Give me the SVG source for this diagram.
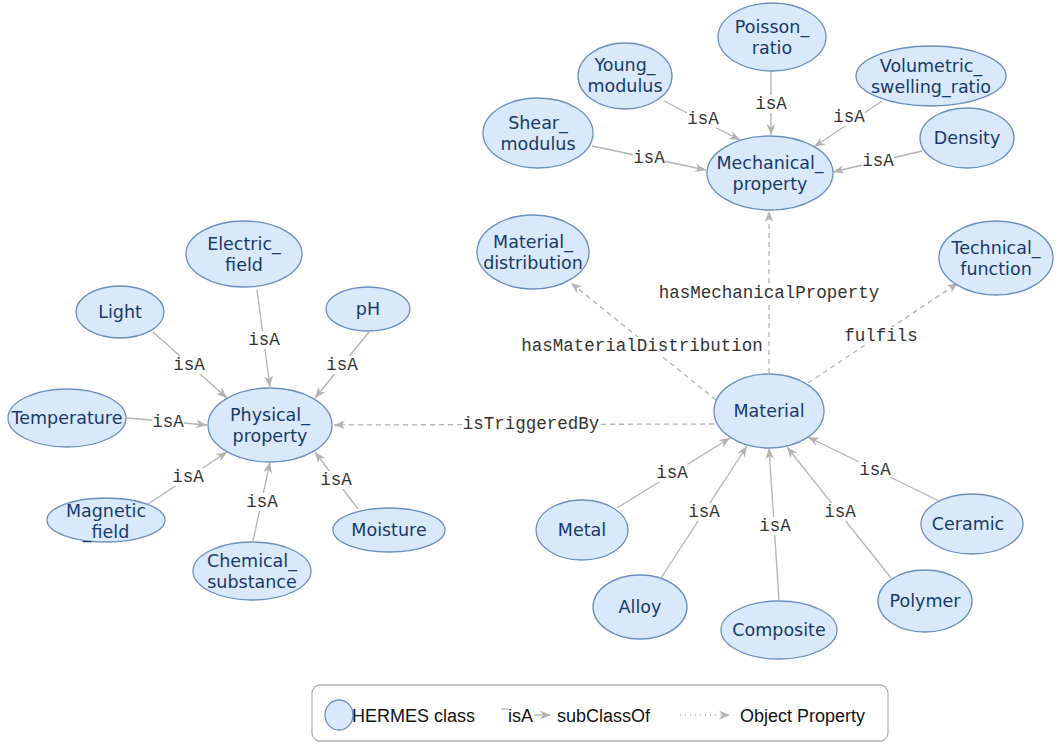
<svg xmlns="http://www.w3.org/2000/svg" width="1060" height="742" viewBox="0 0 1060 742">
<defs>
<style>
.n ellipse{fill:#dae8fc;stroke:#6c8ebf;stroke-width:1.3}
.n text{font-family:"DejaVu Sans",Verdana,sans-serif;font-size:17.5px;fill:#173a6a;text-anchor:middle}
.e{stroke:#b3b3b3;stroke-width:1.3;fill:none}
.d{stroke:#b3b3b3;stroke-width:1.3;fill:none;stroke-dasharray:5 4}
.lb{fill:#fff}
.lt{font-family:"Liberation Mono","Courier New",monospace;font-size:17.5px;fill:#333;text-anchor:middle}
.lg{font-family:"Liberation Sans",Arial,sans-serif;font-size:18px;fill:#111}
</style>
<marker id="ar" viewBox="0 0 10 8" refX="10" refY="4" markerWidth="11" markerHeight="9" markerUnits="userSpaceOnUse" orient="auto">
<path d="M0,0 L10,4 L0,8 L3,4 Z" fill="#b3b3b3"/>
</marker>
</defs>
<rect width="1060" height="742" fill="#fff"/>

<g id="edges">
<line class="e" x1="664" y1="101" x2="740" y2="140" marker-end="url(#ar)"/>
<line class="e" x1="771" y1="71" x2="771" y2="135" marker-end="url(#ar)"/>
<line class="e" x1="882" y1="101" x2="814" y2="147" marker-end="url(#ar)"/>
<line class="e" x1="592" y1="146" x2="706" y2="170" marker-end="url(#ar)"/>
<line class="e" x1="922" y1="151" x2="833" y2="172" marker-end="url(#ar)"/>
<line class="e" x1="257" y1="290" x2="270" y2="387" marker-end="url(#ar)"/>
<line class="e" x1="153" y1="332" x2="227" y2="398" marker-end="url(#ar)"/>
<line class="e" x1="369" y1="332" x2="315" y2="398" marker-end="url(#ar)"/>
<line class="e" x1="127" y1="418" x2="207" y2="425" marker-end="url(#ar)"/>
<line class="e" x1="148" y1="504" x2="227" y2="452" marker-end="url(#ar)"/>
<line class="e" x1="253" y1="541" x2="270" y2="462" marker-end="url(#ar)"/>
<line class="e" x1="358" y1="509" x2="315" y2="452" marker-end="url(#ar)"/>
<line class="e" x1="617" y1="508" x2="730" y2="438" marker-end="url(#ar)"/>
<line class="e" x1="661" y1="578" x2="747" y2="446" marker-end="url(#ar)"/>
<line class="e" x1="779" y1="600" x2="769" y2="448" marker-end="url(#ar)"/>
<line class="e" x1="891" y1="578" x2="787" y2="447" marker-end="url(#ar)"/>
<line class="e" x1="939" y1="501" x2="808" y2="437" marker-end="url(#ar)"/>
<line class="d" x1="714" y1="424" x2="334" y2="425" marker-end="url(#ar)"/>
<line class="d" x1="716" y1="400" x2="571" y2="283" marker-end="url(#ar)"/>
<line class="d" x1="769" y1="373" x2="769" y2="211" marker-end="url(#ar)"/>
<line class="d" x1="808" y1="383" x2="958" y2="283" marker-end="url(#ar)"/>
<g>
<rect class="lb" x="687" y="110" width="32" height="18"/><text class="lt" x="703" y="124">isA</text>
<rect class="lb" x="755" y="95" width="32" height="18"/><text class="lt" x="771" y="109">isA</text>
<rect class="lb" x="833" y="108" width="32" height="18"/><text class="lt" x="849" y="122">isA</text>
<rect class="lb" x="633" y="149" width="32" height="18"/><text class="lt" x="649" y="163">isA</text>
<rect class="lb" x="862" y="152" width="32" height="18"/><text class="lt" x="878" y="166">isA</text>
<rect class="lb" x="248" y="331" width="32" height="18"/><text class="lt" x="264" y="345">isA</text>
<rect class="lb" x="173" y="356" width="32" height="18"/><text class="lt" x="189" y="370">isA</text>
<rect class="lb" x="326" y="356" width="32" height="18"/><text class="lt" x="342" y="370">isA</text>
<rect class="lb" x="152" y="413" width="32" height="18"/><text class="lt" x="168" y="427">isA</text>
<rect class="lb" x="172" y="468" width="32" height="18"/><text class="lt" x="188" y="482">isA</text>
<rect class="lb" x="246" y="493" width="32" height="18"/><text class="lt" x="262" y="507">isA</text>
<rect class="lb" x="320" y="471" width="32" height="18"/><text class="lt" x="336" y="485">isA</text>
<rect class="lb" x="656" y="464" width="32" height="18"/><text class="lt" x="672" y="478">isA</text>
<rect class="lb" x="688" y="503" width="32" height="18"/><text class="lt" x="704" y="517">isA</text>
<rect class="lb" x="759" y="517" width="32" height="18"/><text class="lt" x="775" y="531">isA</text>
<rect class="lb" x="824" y="503" width="32" height="18"/><text class="lt" x="840" y="517">isA</text>
<rect class="lb" x="859" y="461" width="32" height="18"/><text class="lt" x="875" y="475">isA</text>
<rect class="lb" x="462" y="415" width="138" height="18"/><text class="lt" x="531" y="429">isTriggeredBy</text>
<rect class="lb" x="517" y="337" width="250" height="18"/><text class="lt" x="642" y="351">hasMaterialDistribution</text>
<rect class="lb" x="655" y="284" width="228" height="18"/><text class="lt" x="769" y="298">hasMechanicalProperty</text>
<rect class="lb" x="841" y="327" width="80" height="18"/><text class="lt" x="881" y="341">fulfils</text>
</g>
</g>

<g id="young" class="n"><ellipse cx="625" cy="76" rx="47" ry="33"/><text x="625" y="71">Young_</text><text x="625" y="92">modulus</text></g>
<g id="poisson" class="n"><ellipse cx="772" cy="37" rx="54" ry="34"/><text x="772" y="33">Poisson_</text><text x="772" y="54">ratio</text></g>
<g id="volumetric" class="n"><ellipse cx="931" cy="76" rx="75" ry="30"/><text x="931" y="72">Volumetric_</text><text x="931" y="93">swelling_ratio</text></g>
<g id="shear" class="n"><ellipse cx="538" cy="133" rx="55" ry="35"/><text x="538" y="129">Shear_</text><text x="538" y="150">modulus</text></g>
<g id="density" class="n"><ellipse cx="967" cy="138" rx="47" ry="30"/><text x="967" y="144">Density</text></g>
<g id="mechanical" class="n"><ellipse cx="770" cy="173" rx="63" ry="37"/><text x="770" y="169">Mechanical_</text><text x="770" y="190">property</text></g>
<g id="matdist" class="n"><ellipse cx="533" cy="252" rx="56" ry="37"/><text x="533" y="248">Material_</text><text x="533" y="269">distribution</text></g>
<g id="technical" class="n"><ellipse cx="996" cy="258" rx="57" ry="37"/><text x="996" y="254">Technical_</text><text x="996" y="275">function</text></g>
<g id="material" class="n"><ellipse cx="769" cy="411" rx="55" ry="37"/><text x="769" y="417">Material</text></g>
<g id="metal" class="n"><ellipse cx="582" cy="530" rx="46" ry="30"/><text x="582" y="536">Metal</text></g>
<g id="alloy" class="n"><ellipse cx="640" cy="607" rx="47" ry="32"/><text x="640" y="613">Alloy</text></g>
<g id="composite" class="n"><ellipse cx="779" cy="630" rx="58" ry="29"/><text x="779" y="636">Composite</text></g>
<g id="polymer" class="n"><ellipse cx="925" cy="601" rx="47" ry="31"/><text x="925" y="607">Polymer</text></g>
<g id="ceramic" class="n"><ellipse cx="972" cy="524" rx="51" ry="30"/><text x="968" y="530">Ceramic</text></g>
<g id="electric" class="n"><ellipse cx="244" cy="254" rx="58" ry="33"/><text x="244" y="250">Electric_</text><text x="244" y="271">field</text></g>
<g id="light" class="n"><ellipse cx="120" cy="312" rx="44" ry="26"/><text x="120" y="318">Light</text></g>
<g id="ph" class="n"><ellipse cx="368" cy="309" rx="42" ry="22"/><text x="368" y="315">pH</text></g>
<g id="temperature" class="n"><ellipse cx="67" cy="418" rx="59" ry="29"/><text x="67" y="424">Temperature</text></g>
<g id="physical" class="n"><ellipse cx="270" cy="425" rx="62" ry="37"/><text x="270" y="421">Physical_</text><text x="270" y="442">property</text></g>
<g id="magnetic" class="n"><ellipse cx="106" cy="520" rx="59" ry="22"/><text x="106" y="517">Magnetic</text><text x="106" y="538">_field</text></g>
<g id="chemical" class="n"><ellipse cx="252" cy="571" rx="59" ry="29"/><text x="252" y="567">Chemical_</text><text x="252" y="588">substance</text></g>
<g id="moisture" class="n"><ellipse cx="389" cy="530" rx="56" ry="22"/><text x="389" y="536">Moisture</text></g>

<g id="legend">
<rect x="312" y="685" width="576" height="56" rx="8" fill="#fff" stroke="#b3b3b3" stroke-width="1.3"/>
<ellipse cx="339" cy="715" rx="14" ry="15" fill="#dae8fc" stroke="#6c8ebf" stroke-width="1.3"/>
<text class="lg" x="352" y="722">HERMES class</text>
<line x1="501" y1="709" x2="508" y2="709" stroke="#b3b3b3" stroke-width="1.3"/>
<text class="lg" x="508" y="722">isA</text>
<line x1="534" y1="715" x2="551" y2="715" stroke="#b3b3b3" stroke-width="1.3" marker-end="url(#ar)"/>
<text class="lg" x="557" y="722">subClassOf</text>
<line x1="680" y1="715" x2="730" y2="715" stroke="#b3b3b3" stroke-width="1.3" stroke-dasharray="1 4" marker-end="url(#ar)"/>
<text class="lg" x="740" y="722">Object Property</text>
</g>
</svg>
